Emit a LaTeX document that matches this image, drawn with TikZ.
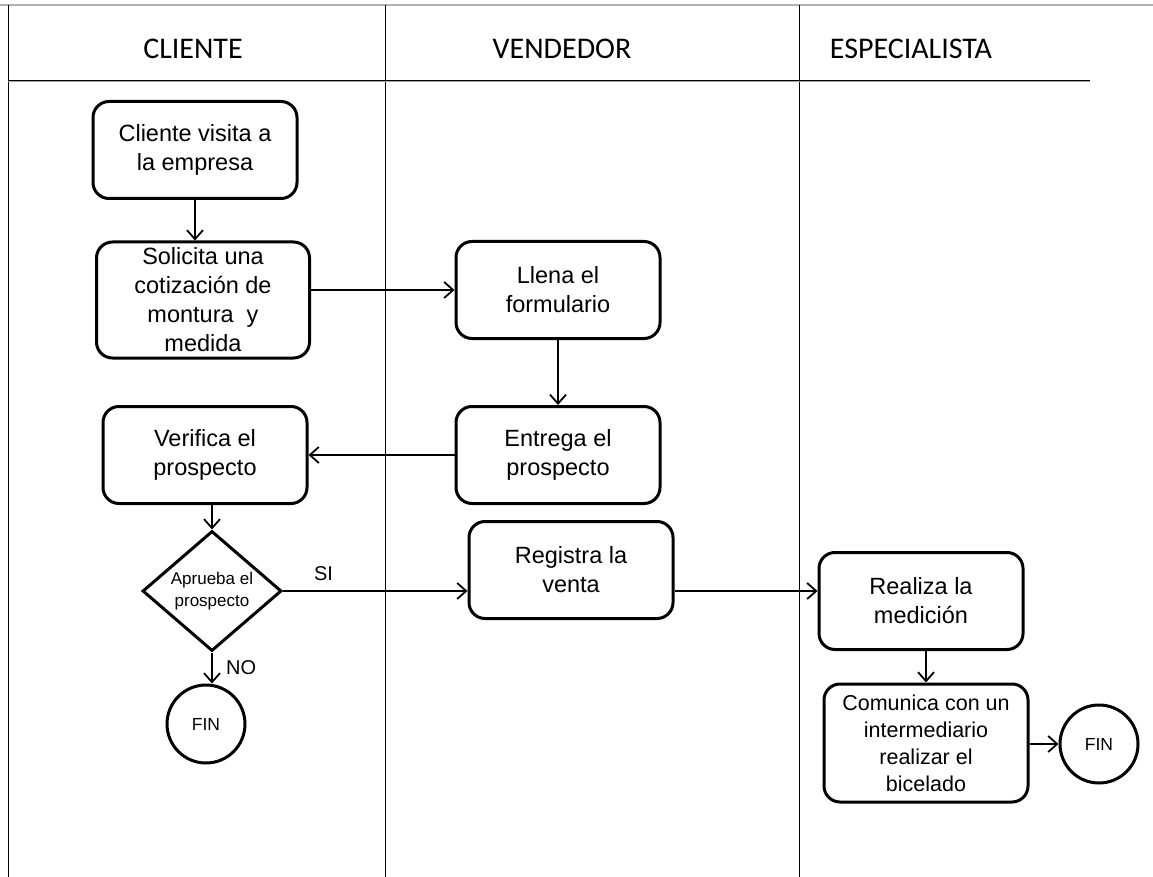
\documentclass[tikz,border=0pt]{standalone}
\usepackage{fontspec}
\setmainfont{Liberation Sans}
\newfontfamily\headfont{Carlito}
\usetikzlibrary{shapes.geometric, arrows.meta}
\tikzstyle{proc}=[draw, line width=3pt, rounded corners=16pt, minimum width=204pt, minimum height=97pt, align=center, font=\fontsize{23.5}{29}\selectfont, inner sep=1pt]
\tikzstyle{dec}=[draw, line width=3pt, diamond, minimum width=139pt, minimum height=115pt, inner sep=0pt, align=center, font=\fontsize{17}{22}\selectfont]
\tikzstyle{stop}=[draw, line width=3pt, circle, minimum size=78pt, inner sep=0pt, font=\fontsize{17.5}{20}\selectfont]
\tikzstyle{lane}=[font=\headfont\fontsize{30}{32}\selectfont]
\tikzstyle{lbl}=[font=\fontsize{20}{22}\selectfont]

\begin{document}
\begin{tikzpicture}[x=1pt,y=-1pt,>={Straight Barb[length=9pt,width=16pt]},line width=1.8pt]
      \useasboundingbox (0,0) rectangle (1153,877);
      % lanes
      \draw[gray!60, line width=1.2pt] (0,5) -- (1153,5);
      \draw[line width=1pt] (8,5) -- (8,877);
      \draw[line width=1pt] (385,5) -- (385,877);
      \draw[line width=1pt] (799,5) -- (799,877);
      \draw[gray!70, line width=2pt] (8,81) -- (1090,81);
      \draw[line width=0.8pt] (8,80) -- (1090,80);
      \node [lane] (h1) at (193,49) {CLIENTE};
      \node [lane] (h2) at (562,49) {VENDEDOR};
      \node [lane] (h3) at (911,49) {ESPECIALISTA};
      % cliente
      \node [proc] (visita) at (195,150) {Cliente visita a\\la empresa};
      \node [proc, minimum width=213pt, minimum height=116pt] (solicita) at (203,300) {Solicita una\\cotizaci\'on de\\montura \ y\\medida};
      \node [proc] (verifica) at (205,455) {Verifica el\\prospecto};
      \node [dec] (aprueba) at (212,591) {Aprueba el\\prospecto};
      \node [stop] (fin1) at (206,724) {FIN};
      % vendedor
      \node [proc] (llena) at (558,290) {Llena el\\formulario};
      \node [proc] (entrega) at (558,455) {Entrega el\\prospecto};
      \node [proc] (registra) at (571,570) {Registra la\\venta};
      % especialista
      \node [proc] (realiza) at (921,601) {Realiza la\\medici\'on};
      \node [proc, minimum height=118pt, font=\fontsize{21.5}{27}\selectfont] (comunica) at (926,743) {Comunica con un\\intermediario\\realizar el\\bicelado};
      \node [stop] (fin2) at (1099,744) {FIN};
      % flechas
      \draw[->] (visita.south) -- (visita.south |- solicita.north);
      \draw[->] (solicita.east |- llena.west) -- (llena.west);
      \draw[->] (llena.south) -- (entrega.north);
      \draw[->] (entrega.west) -- (verifica.east);
      \draw[->] (aprueba.north |- verifica.south) -- (aprueba.north);
      \draw[->] (aprueba.east) -- (aprueba.east -| registra.west) node [lbl, pos=0.22, above=6pt] {SI};
      \draw[->] (aprueba.south) -- (aprueba.south |- fin1.north) node [lbl, midway, right=10pt] {NO};
      \draw[->] (registra.east |- aprueba.east) -- (realiza.west |- aprueba.east);
      \draw[->] (comunica.north |- realiza.south) -- (comunica.north);
      \draw[->] (comunica.east |- fin2.west) -- (fin2.west);
  \end{tikzpicture}
\end{document}
